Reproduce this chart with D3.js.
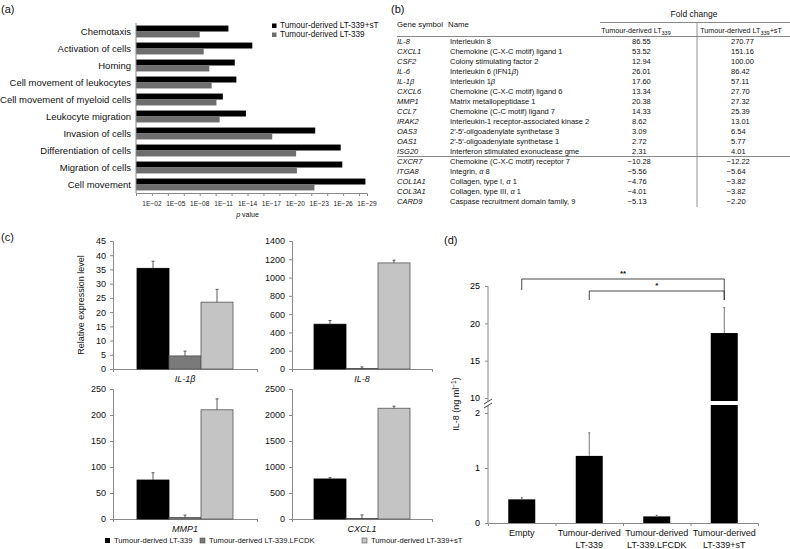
<!DOCTYPE html>
<html>
<head>
<meta charset="utf-8">
<script src="https://cdn.jsdelivr.net/npm/d3@7"></script>
<style>
body { margin: 0; background: #fff; }
svg { font-family: "Liberation Sans", Arial, sans-serif; fill: #111; }
</style>
</head>
<body>
<svg id="fig" width="790" height="549"></svg>
<script>
// ---- panel (a): pathway enrichment, -log10(p)
const terms = ["Chemotaxis", "Activation of cells", "Homing", "Cell movement of leukocytes",
  "Cell movement of myeloid cells", "Leukocyte migration", "Invasion of cells",
  "Differentiation of cells", "Migration of cells", "Cell movement"];
const logpSt = [11.6, 14.6, 12.4, 12.6, 10.9, 13.8, 22.5, 25.7, 25.9, 28.8];
const logp339 = [8.0, 8.5, 9.2, 9.5, 10.1, 10.5, 17.1, 20.1, 20.2, 22.4];
const pTicks = [2, 5, 8, 11, 14, 17, 20, 23, 26, 29];
const legendA = ["Tumour-derived LT-339+sT", "Tumour-derived LT-339"];

// ---- panel (b): fold change table
const genes = ["IL-8", "CXCL1", "CSF2", "IL-6", "IL-1β", "CXCL6", "MMP1", "CCL7", "IRAK2",
  "OAS3", "OAS1", "ISG20", "CXCR7", "ITGA8", "COL1A1", "COL3A1", "CARD9"];
const geneNames = ["Interleukin 8", "Chemokine (C-X-C motif) ligand 1", "Colony stimulating factor 2",
  "Interleukin 6 (IFN1β)", "Interleukin 1β", "Chemokine (C-X-C motif) ligand 6",
  "Matrix metallopeptidase 1", "Chemokine (C-C motif) ligand 7",
  "Interleukin-1 receptor-associated kinase 2", "2′-5′-oligoadenylate synthetase 3",
  "2′-5′-oligoadenylate synthetase 1", "Interferon stimulated exonuclease gme",
  "Chemokine (C-X-C motif) receptor 7", "Integrin, α 8", "Collagen, type I, α 1",
  "Collagen, type III, α 1", "Caspase recruitment domain family, 9"];
const fc339 = [86.55, 53.52, 12.94, 26.01, 17.60, 13.34, 20.38, 14.33, 8.62, 3.09, 2.72, 2.31,
  -10.28, -5.56, -4.76, -4.01, -5.13];
const fc339sT = [270.77, 151.16, 100.00, 86.42, 57.11, 27.70, 27.32, 25.39, 13.01, 6.54, 5.77, 4.01,
  -12.22, -5.64, -3.82, -3.82, -2.20];

// ---- panel (c): qPCR relative expression
const conds = ["Tumour-derived LT-339", "Tumour-derived LT-339.LFCDK", "Tumour-derived LT-339+sT"];
const condColors = ["#000", "#7a7a7a", "#c4c4c4"];
const qGenes = ["IL-1β", "IL-8", "MMP1", "CXCL1"];
const qMeans = [[35.4, 4.6, 23.5], [490, 5, 1160], [75, 3, 210], [770, 8, 2130]];
const qErrs = [[2.5, 1.7, 4.5], [40, 18, 30], [14, 4.5, 21], [25, 70, 40]];
const qMax = [45, 1400, 250, 2500];
const qStep = [5, 200, 50, 500];

// ---- panel (d): IL-8 ELISA
const dGroups = [["Empty"], ["Tumour-derived", "LT-339"], ["Tumour-derived", "LT-339.LFCDK"],
  ["Tumour-derived", "LT-339+sT"]];
const dMeans = [0.43, 1.22, 0.12, 18.7];
const dErrs = [0.03, 0.42, 0.02, 3.4];
const dLowTicks = [0, 1, 2];
const dHighTicks = [10, 15, 20, 25];

const svg = d3.select("#fig");
const axisCol = "#8a8a8a";
const fmt2 = d3.format(".2f");
const fmtInt = d3.format("d");

function italicGreek(sel, str) {
  str.split(/([αβ])/).forEach(s => {
    if (!s) return;
    const t = sel.append("tspan").text(s);
    if (s === "α" || s === "β") t.attr("font-style", "italic");
  });
}

// ================= (a)
svg.append("text").attr("x", 1).attr("y", 13).attr("font-size", 11).text("(a)");
const ga = svg.append("g");
const xa = d3.scaleLinear().domain([0, 29]).range([136, 367]);
const ya = d3.scaleBand().domain(terms).range([23, 193]).paddingInner(0.3).paddingOuter(0.15);
const hb = ya.bandwidth() / 2;

ga.selectAll("rect.st").data(terms).join("rect")
  .attr("x", xa(0)).attr("y", d => ya(d))
  .attr("width", (d, i) => xa(logpSt[i]) - xa(0)).attr("height", hb)
  .attr("fill", "#000");
ga.selectAll("rect.lt").data(terms).join("rect")
  .attr("x", xa(0)).attr("y", d => ya(d) + hb)
  .attr("width", (d, i) => xa(logp339[i]) - xa(0)).attr("height", hb)
  .attr("fill", "#6e6e6e");

ga.append("g").attr("transform", "translate(0,193)")
  .call(d3.axisBottom(xa).tickValues(d3.range(0, 30, 2)).tickSize(3).tickFormat(""))
  .call(g => g.selectAll("path,line").attr("stroke", axisCol));
ga.append("line").attr("x1", 136).attr("x2", 136).attr("y1", 23).attr("y2", 193).attr("stroke", axisCol);
ga.selectAll("text.pt").data(pTicks).join("text")
  .attr("x", d => xa(d)).attr("y", 206).attr("text-anchor", "middle")
  .attr("font-size", 6.6).attr("fill", "#222")
  .text(d => "1E\u2212" + d3.format("02d")(d));
ga.append("text").attr("x", xa(14)).attr("y", 217).attr("text-anchor", "middle")
  .attr("font-size", 7).call(t => {
    t.append("tspan").attr("font-style", "italic").text("p");
    t.append("tspan").text(" value");
  });
ga.selectAll("text.term").data(terms).join("text")
  .attr("x", 131).attr("y", d => ya(d) + hb + 3.5).attr("text-anchor", "end")
  .attr("font-size", 9.5).text(d => d);

const la = ga.selectAll("g.leg").data(legendA).join("g")
  .attr("transform", (d, i) => `translate(272,${28 + i * 9})`);
la.append("rect").attr("x", 0).attr("y", -4.5).attr("width", 4.5).attr("height", 4.5)
  .attr("fill", (d, i) => i ? "#6e6e6e" : "#000");
la.append("text").attr("x", 8).attr("y", 0).attr("font-size", 8.2).text(d => d);

// ================= (b)
svg.append("text").attr("x", 391).attr("y", 13).attr("font-size", 11).text("(b)");
const gb = svg.append("g").attr("font-size", 7.5);
const yb = d3.scaleBand().domain(genes).range([36, 206]);
const rowY = g => yb(g) + yb.bandwidth() / 2 + 2.8;
const c1 = 632, c2 = 731;

gb.append("text").attr("x", 694).attr("y", 17).attr("text-anchor", "middle").attr("font-size", 8.5).text("Fold change");
gb.append("text").attr("x", 397).attr("y", 27).attr("font-size", 7.8).text("Gene symbol");
gb.append("text").attr("x", 448).attr("y", 27).attr("font-size", 7.8).text("Name");
gb.append("line").attr("x1", 600).attr("x2", 790).attr("y1", 22.5).attr("y2", 22.5).attr("stroke", "#555").attr("stroke-width", 0.7);
[[636, ""], [741, "+sT"]].forEach(([cx, suf]) => {
  const t = gb.append("text").attr("x", cx).attr("y", 33).attr("text-anchor", "middle").attr("font-size", 7.2);
  t.append("tspan").text("Tumour-derived LT");
  t.append("tspan").attr("font-size", 5.5).attr("dy", 2).text("339");
  if (suf) t.append("tspan").attr("dy", -2).text(suf);
});
gb.append("line").attr("x1", 397).attr("x2", 790).attr("y1", 36.5).attr("y2", 36.5).attr("stroke", "#555").attr("stroke-width", 0.7);
gb.append("line").attr("x1", 397).attr("x2", 790).attr("y1", yb("CXCR7") + 0.5).attr("y2", yb("CXCR7") + 0.5).attr("stroke", "#555").attr("stroke-width", 0.7);
gb.append("line").attr("x1", 697).attr("x2", 697).attr("y1", 23).attr("y2", 207).attr("stroke", "#777").attr("stroke-width", 0.8);

gb.selectAll("text.gs").data(genes).join("text")
  .attr("x", 397).attr("y", d => rowY(d)).attr("font-style", "italic").text(d => d);
gb.selectAll("text.nm").data(genes).join("text")
  .attr("x", 450).attr("y", d => rowY(d))
  .each(function (d, i) { italicGreek(d3.select(this), geneNames[i]); });
gb.selectAll("text.v1").data(genes).join("text")
  .attr("x", (d, i) => fc339[i] < 0 ? c1 - 4.4 : c1).attr("y", d => rowY(d)).text((d, i) => fmt2(fc339[i]));
gb.selectAll("text.v2").data(genes).join("text")
  .attr("x", (d, i) => fc339sT[i] < 0 ? c2 - 4.4 : c2).attr("y", d => rowY(d)).text((d, i) => fmt2(fc339sT[i]));

// ================= (c)
svg.append("text").attr("x", 1).attr("y", 241).attr("font-size", 11).text("(c)");
const boxes = [[113, 257, 241, 369], [292, 432, 241, 369], [113, 257, 389, 519], [292, 432, 389, 519]];
qGenes.forEach((gene, k) => {
  const [x0, x1, yTop, yBot] = boxes[k];
  const g = svg.append("g");
  const mid = (x0 + x1) / 2;
  const xb = d3.scaleBand().domain(conds).range([mid - 48, mid + 48]);
  const yq = d3.scaleLinear().domain([0, qMax[k]]).range([yBot, yTop]);
  g.append("g").attr("transform", `translate(${x0},0)`)
    .call(d3.axisLeft(yq).tickValues(d3.range(0, qMax[k] + 1, qStep[k])).tickFormat(fmtInt).tickSize(3).tickPadding(4))
    .call(a => a.selectAll("path,line").attr("stroke", axisCol))
    .call(a => a.selectAll("text").attr("font-size", 9).attr("fill", "#111").attr("font-family", null));
  g.append("g").attr("transform", `translate(0,${yBot})`)
    .call(d3.axisBottom(d3.scaleLinear().range([x0, x1])).tickValues([1]).tickSize(3).tickFormat(""))
    .call(a => a.selectAll("path,line").attr("stroke", axisCol));
  g.selectAll("rect").data(conds).join("rect")
    .attr("x", d => xb(d)).attr("width", xb.bandwidth())
    .attr("y", (d, i) => yq(qMeans[k][i])).attr("height", (d, i) => yBot - yq(qMeans[k][i]))
    .attr("fill", (d, i) => condColors[i]).attr("stroke", (d, i) => i ? "#555" : "#000").attr("stroke-width", 0.8);
  g.selectAll("line.err").data(conds).join("line")
    .attr("x1", d => xb(d) + xb.bandwidth() / 2).attr("x2", d => xb(d) + xb.bandwidth() / 2)
    .attr("y1", (d, i) => yq(qMeans[k][i])).attr("y2", (d, i) => yq(qMeans[k][i] + qErrs[k][i]))
    .attr("stroke", "#333").attr("stroke-width", 0.8);
  g.selectAll("line.cap").data(conds).join("line")
    .attr("x1", d => xb(d) + xb.bandwidth() / 2 - 1.5).attr("x2", d => xb(d) + xb.bandwidth() / 2 + 1.5)
    .attr("y1", (d, i) => yq(qMeans[k][i] + qErrs[k][i])).attr("y2", (d, i) => yq(qMeans[k][i] + qErrs[k][i]))
    .attr("stroke", "#333").attr("stroke-width", 0.8);
  g.append("text").attr("x", mid).attr("y", yBot + 13).attr("text-anchor", "middle")
    .attr("font-size", 9).attr("font-style", "italic").text(gene);
});
svg.append("text").attr("transform", "translate(84,305) rotate(-90)").attr("text-anchor", "middle")
  .attr("font-size", 9).text("Relative expression level");
const legX = [105, 200, 362];
const lc = svg.selectAll("g.legc").data(conds).join("g")
  .attr("transform", (d, i) => `translate(${legX[i]},543)`);
lc.append("rect").attr("x", 0).attr("y", -5).attr("width", 5).attr("height", 5)
  .attr("fill", (d, i) => condColors[i]).attr("stroke", (d, i) => i ? "#555" : "none").attr("stroke-width", 0.6);
lc.append("text").attr("x", 9).attr("y", 0).attr("font-size", 7.6).text(d => d);

// ================= (d)
svg.append("text").attr("x", 444).attr("y", 244).attr("font-size", 11).text("(d)");
const gd = svg.append("g");
const xd = d3.scaleBand().domain(d3.range(dGroups.length)).range([488, 758]).paddingInner(0.6).paddingOuter(0.3);
const yLow = d3.scaleLinear().domain([0, 2]).range([523, 413]);
const yHigh = d3.scaleLinear().domain([10, 25]).range([398, 286]);
const yD = v => v <= 2 ? yLow(v) : yHigh(v);
const brkLo = 405, brkHi = 401;

gd.append("g").attr("transform", "translate(488,0)")
  .call(d3.axisLeft(yLow).tickValues(dLowTicks).tickFormat(fmtInt).tickSize(3).tickPadding(5))
  .call(a => a.select("path").attr("d", `M0,${brkLo}V523`))
  .call(a => a.selectAll("path,line").attr("stroke", axisCol))
  .call(a => a.selectAll("text").attr("font-size", 9).attr("font-family", null));
gd.append("g").attr("transform", "translate(488,0)")
  .call(d3.axisLeft(yHigh).tickValues(dHighTicks).tickFormat(fmtInt).tickSize(3).tickPadding(5))
  .call(a => a.select("path").attr("d", `M0,286V${brkHi}`))
  .call(a => a.selectAll("path,line").attr("stroke", axisCol))
  .call(a => a.selectAll("text").attr("font-size", 9).attr("font-family", null));
[brkHi + 1, brkLo + 1].forEach(y => gd.append("line")
  .attr("x1", 484).attr("x2", 492).attr("y1", y + 2).attr("y2", y - 3)
  .attr("stroke", "#333").attr("stroke-width", 0.9));
gd.append("g").attr("transform", "translate(0,523)")
  .call(d3.axisBottom(d3.scaleLinear().domain([0, 4]).range([488, 758])).tickValues([1, 2, 3]).tickSize(3).tickFormat(""))
  .call(a => a.selectAll("path,line").attr("stroke", axisCol));

dMeans.forEach((v, i) => {
  const x = xd(i), w = xd.bandwidth();
  if (v <= 2) {
    gd.append("rect").attr("x", x).attr("width", w).attr("y", yD(v)).attr("height", 523 - yD(v)).attr("fill", "#000");
  } else {
    gd.append("rect").attr("x", x).attr("width", w).attr("y", brkLo).attr("height", 523 - brkLo).attr("fill", "#000");
    gd.append("rect").attr("x", x).attr("width", w).attr("y", yD(v)).attr("height", brkHi - yD(v)).attr("fill", "#000");
  }
  gd.append("line").attr("x1", x + w / 2).attr("x2", x + w / 2)
    .attr("y1", yD(v)).attr("y2", yD(v + dErrs[i])).attr("stroke", "#666").attr("stroke-width", 0.9);
  gd.append("line").attr("x1", x + w / 2 - 1).attr("x2", x + w / 2 + 1)
    .attr("y1", yD(v + dErrs[i])).attr("y2", yD(v + dErrs[i])).attr("stroke", "#666").attr("stroke-width", 0.9);
  const t = gd.append("text").attr("x", x + w / 2).attr("y", 536).attr("text-anchor", "middle").attr("font-size", 9);
  dGroups[i].forEach((s, j) => t.append("tspan").attr("x", x + w / 2).attr("dy", j ? 12 : 0).text(s));
});

// significance brackets
const cx = i => xd(i) + xd.bandwidth() / 2;
[[0, 279, 290, "**"], [1, 291, 300, "*"]].forEach(([from, yb0, yEnd, lab]) => {
  gd.append("path")
    .attr("d", `M${cx(from)},${yEnd}V${yb0}H${cx(3)}V300`)
    .attr("fill", "none").attr("stroke", "#333").attr("stroke-width", 0.9);
  gd.append("text").attr("x", (cx(from) + cx(3)) / 2).attr("y", yb0 - 3).attr("text-anchor", "middle")
    .attr("font-size", 8).attr("font-weight", "bold").text(lab);
});

const yl = gd.append("text").attr("transform", "translate(459,404) rotate(-90)").attr("text-anchor", "middle").attr("font-size", 9);
yl.append("tspan").text("IL-8 (ng ml");
yl.append("tspan").attr("dy", -3).attr("font-size", 6.5).text("\u22121");
yl.append("tspan").attr("dy", 3).text(")");
</script>
</body>
</html>
